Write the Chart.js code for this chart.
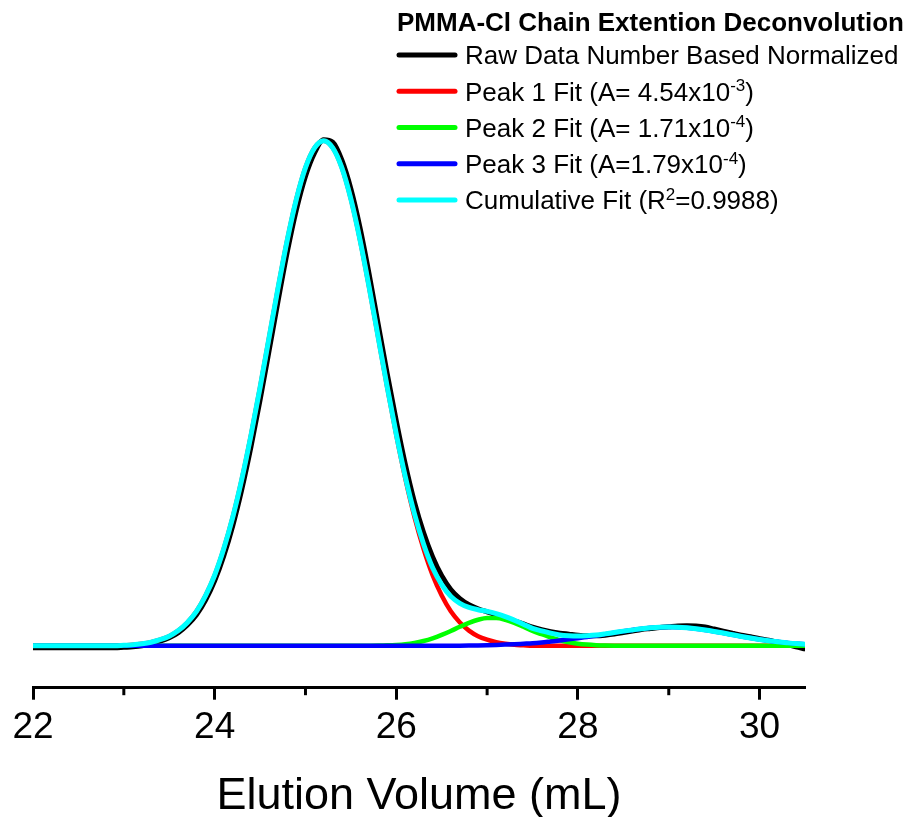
<!DOCTYPE html>
<html><head><meta charset="utf-8">
<script src="https://cdn.jsdelivr.net/npm/chart.js@4.4.0/dist/chart.umd.min.js"></script>
<style>html,body{margin:0;padding:0;background:#fff;}canvas{display:block;}</style>
</head><body>
<canvas id="c" width="914" height="817"></canvas>
<script>
// ---- data ----
const elutionVolume = [22.0,22.1,22.2,22.3,22.4,22.5,22.6,22.7,22.8,22.9,
23.0,23.1,23.2,23.3,23.4,23.5,23.6,23.7,23.8,23.9,
24.0,24.1,24.2,24.3,24.4,24.5,24.6,24.7,24.8,24.9,
25.0,25.1,25.2,25.3,25.4,25.5,25.6,25.7,25.8,25.9,
26.0,26.1,26.2,26.3,26.4,26.5,26.6,26.7,26.8,26.9,
27.0,27.1,27.2,27.3,27.4,27.5,27.6,27.7,27.8,27.9,
28.0,28.1,28.2,28.3,28.4,28.5,28.6,28.7,28.8,28.9,
29.0,29.1,29.2,29.3,29.4,29.5,29.6,29.7,29.8,29.9,
30.0,30.1,30.2,30.3,30.4,30.5];

const rawData = [-0.004,-0.004,-0.004,-0.004,-0.004,-0.004,-0.004,-0.004,-0.004,-0.004,
-0.003,-0.002,0.000,0.004,0.009,0.016,0.026,0.041,0.061,0.090,
0.128,0.177,0.237,0.309,0.392,0.484,0.582,0.681,0.776,0.859,
0.925,0.971,0.997,0.992,0.957,0.900,0.824,0.733,0.634,0.536,
0.443,0.357,0.283,0.223,0.175,0.138,0.111,0.093,0.081,0.073,
0.067,0.061,0.055,0.049,0.043,0.037,0.032,0.028,0.025,0.023,
0.021,0.020,0.020,0.021,0.023,0.026,0.029,0.032,0.034,0.036,
0.0375,0.039,0.0395,0.039,0.037,0.033,0.029,0.025,0.021,0.018,
0.014,0.011,0.007,0.003,-0.002,-0.006];

const peak1Fit = [0,0,0,0,0,0,0,0,0,0,
0.001,0.002,0.004,0.007,0.012,0.019,0.030,0.046,0.068,0.099,
0.139,0.191,0.254,0.329,0.415,0.509,0.608,0.707,0.800,0.880,
0.942,0.981,0.995,0.981,0.942,0.880,0.800,0.707,0.608,0.509,
0.415,0.329,0.254,0.191,0.139,0.099,0.068,0.046,0.030,0.019,
0.012,0.007,0.004,0.002,0.001,0,0,0,0,0,
0,0,0,0,0,0,0,0,0,0,
0,0,0,0,0,0,0,0,0,0,
0,0,0,0,0,0];

const peak2Fit = [0,0,0,0,0,0,0,0,0,0,
0,0,0,0,0,0,0,0,0,0,
0,0,0,0,0,0,0,0,0,0,
0,0,0,0,0,0,0.0001,0.0002,0.0004,0.0009,
0.0018,0.0033,0.0058,0.0095,0.0147,0.0214,0.0292,0.0375,0.0453,0.0513,
0.0546,0.0546,0.0513,0.0453,0.0375,0.0292,0.0230,0.0165,0.0110,0.0070,
0.0042,0.0024,0.0012,0.0005,0.0002,0.0001,0,0,0,0,
0,0,0,0,0,0,0,0,0,0,
0,0,0,0,0,0];

const peak3Fit = [0,0,0,0,0,0,0,0,0,0,
0,0,0,0,0,0,0,0,0,0,
0,0,0,0,0,0,0,0,0,0,
0,0,0,0,0,0,0,0,0,0,
0,0,0,0,0,0.0001,0.0002,0.0003,0.0005,0.0008,
0.0012,0.0017,0.0024,0.0032,0.0041,0.0050,0.0065,0.0085,0.0105,0.0128,
0.0150,0.0175,0.0200,0.0230,0.0260,0.0288,0.0313,0.0336,0.0354,0.0366,
0.0370,0.0366,0.0354,0.0336,0.0311,0.0282,0.0251,0.0218,0.0185,0.0154,
0.0126,0.0100,0.0078,0.0060,0.0044,0.0033];

const cumulativeFit = [0,0,0,0,0,0,0,0,0,0,
0.001,0.002,0.004,0.007,0.012,0.019,0.030,0.046,0.068,0.099,
0.139,0.191,0.254,0.329,0.415,0.509,0.608,0.707,0.800,0.880,
0.942,0.981,0.995,0.981,0.942,0.880,0.8001,0.7072,0.6084,0.5099,
0.4168,0.3323,0.2598,0.2005,0.1537,0.1205,0.0974,0.0838,0.0758,0.0711,
0.0678,0.0633,0.0577,0.0505,0.0426,0.0342,0.0295,0.0250,0.0215,0.0198,
0.0192,0.0199,0.0212,0.0235,0.0262,0.0289,0.0313,0.0336,0.0354,0.0366,
0.0370,0.0366,0.0354,0.0336,0.0311,0.0282,0.0251,0.0218,0.0185,0.0154,
0.0126,0.0100,0.0078,0.0060,0.0044,0.0033];

const majorTicks = [22, 24, 26, 28, 30];
const tickLabels = ['22', '24', '26', '28', '30'];
const minorTicks = [23, 25, 27, 29];
const xTitle = 'Elution Volume (mL)';
const legendTitle = 'PMMA-Cl Chain Extention Deconvolution';
const seriesNames = [
  [{t:'Raw Data Number Based Normalized'}],
  [{t:'Peak 1 Fit (A= 4.54x10'},{t:'-3',sup:true},{t:')'}],
  [{t:'Peak 2 Fit (A= 1.71x10'},{t:'-4',sup:true},{t:')'}],
  [{t:'Peak 3 Fit (A=1.79x10'},{t:'-4',sup:true},{t:')'}],
  [{t:'Cumulative Fit (R'},{t:'2',sup:true},{t:'=0.9988)'}]
];
const seriesColors = ['#000000', '#ff0000', '#00ff00', '#0000ff', '#00ffff'];
// ---------------------------------------

const FONT = '"Liberation Sans", Arial, sans-serif';
Chart.defaults.font.family = FONT;
Chart.defaults.color = '#000';

function pts(arr){ return elutionVolume.map((x,i)=>({x:x, y:arr[i]})); }

const legendPlugin = {
  id: 'customLegend',
  beforeDraw(chart){
    const ctx = chart.ctx;
    ctx.save(); ctx.fillStyle='#fff'; ctx.fillRect(0,0,chart.width,chart.height); ctx.restore();
  },
  afterDraw(chart){
    const ctx = chart.ctx;
    ctx.save();
    ctx.fillStyle = '#000';
    ctx.textBaseline = 'alphabetic';
    ctx.font = 'bold 26px ' + FONT;
    ctx.fillText(legendTitle, 397, 31);
    seriesNames.forEach((parts, i) => {
      const y = 55 + i * 36.25;
      ctx.strokeStyle = seriesColors[i];
      ctx.lineWidth = 5;
      ctx.lineCap = 'round';
      ctx.beginPath(); ctx.moveTo(399, y); ctx.lineTo(455, y); ctx.stroke();
      let x = 465;
      parts.forEach(p => {
        if (p.sup) {
          ctx.font = '17px ' + FONT;
          ctx.fillText(p.t, x, y + 9.3 - 9.5);
        } else {
          ctx.font = '26px ' + FONT;
          ctx.fillText(p.t, x, y + 9.3);
        }
        x += ctx.measureText(p.t).width;
      });
    });
    const xs = chart.scales.x;
    const yb = chart.chartArea.bottom;
    ctx.strokeStyle = '#000';
    ctx.lineWidth = 3;
    ctx.lineCap = 'butt';
    minorTicks.forEach(v => {
      const px = xs.getPixelForValue(v);
      ctx.beginPath(); ctx.moveTo(px, yb); ctx.lineTo(px, yb + 7.5); ctx.stroke();
    });
    ctx.restore();
  }
};

const names = ['Raw Data Number Based Normalized','Peak 1 Fit','Peak 2 Fit','Peak 3 Fit','Cumulative Fit'];
const series = [rawData, peak1Fit, peak2Fit, peak3Fit, cumulativeFit];
const widths = [5, 4.5, 4.5, 4.5, 5];
const orders = [5, 4, 3, 2, 1];

new Chart(document.getElementById('c'), {
  type: 'line',
  data: {
    datasets: series.map((s, i) => ({
      label: names[i],
      data: pts(s),
      borderColor: seriesColors[i],
      backgroundColor: seriesColors[i],
      borderWidth: widths[i],
      fill: false,
      order: orders[i]
    }))
  },
  options: {
    responsive: false,
    animation: false,
    devicePixelRatio: 1,
    layout: { padding: { left: 33, right: 109, top: 62, bottom: 0 } },
    plugins: { legend: { display: false }, tooltip: { enabled: false } },
    elements: {
      point: { radius: 0 },
      line: { cubicInterpolationMode: 'monotone', borderCapStyle: 'round', borderJoinStyle: 'round' }
    },
    scales: {
      x: {
        type: 'linear', min: 22, max: 30.5,
        afterBuildTicks: s => { s.ticks = majorTicks.map(v => ({ value: v })); },
        grid: { drawOnChartArea: false, drawTicks: true, tickLength: 12, tickWidth: 3, tickColor: '#000' },
        border: { display: true, width: 3, color: '#000' },
        ticks: { font: { size: 37 }, color: '#000', padding: 6, maxRotation: 0, autoSkip: false,
                 callback: (v, i) => tickLabels[i] },
        title: { display: true, text: xTitle, color: '#000', font: { size: 45, lineHeight: 0.92 },
                 padding: { top: 19.5, bottom: 0 } }
      },
      y: { display: false, min: -0.0825, max: 1.15 }
    }
  },
  plugins: [legendPlugin]
});
</script>
</body></html>
